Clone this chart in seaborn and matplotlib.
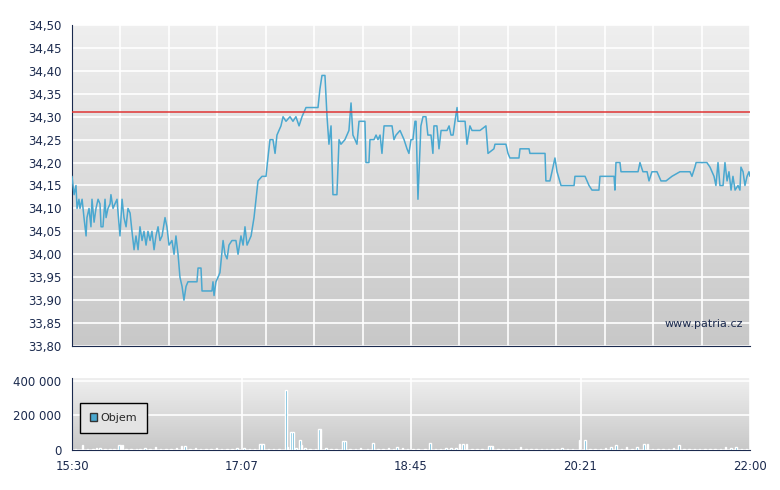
import numpy as np
import pandas as pd
import matplotlib
matplotlib.use("Agg")
import matplotlib.pyplot as plt
import seaborn as sns

# (minutes since 15:30, price)
price_points = [
(0,34.17),(1.2,34.13),(2.3,34.15),(2.9,34.10),(4.0,34.12),(4.6,34.10),(5.8,34.12),(6.9,34.08),(8.1,34.04),(8.6,34.08),
(9.8,34.10),(10.9,34.06),(11.5,34.12),(12.7,34.07),(13.8,34.10),(15.0,34.12),(16.1,34.11),(16.7,34.06),(17.8,34.06),(19.0,34.12),
(19.6,34.08),(20.7,34.10),(21.9,34.11),(22.4,34.13),(23.6,34.10),(24.7,34.11),(25.9,34.12),(26.5,34.09),(27.6,34.04),(28.8,34.12),
(29.9,34.08),(31.1,34.06),(32.2,34.10),(33.4,34.09),(34.5,34.05),(35.7,34.01),(36.8,34.04),(38.0,34.01),(39.1,34.06),(40.3,34.03),
(41.4,34.05),(42.6,34.02),(43.7,34.05),(44.9,34.03),(46.0,34.05),(47.2,34.01),(48.3,34.04),(49.5,34.06),(50.6,34.03),(51.8,34.04),
(53.5,34.08),(54.6,34.06),(55.8,34.02),(57.5,34.03),(58.7,34.00),(59.8,34.04),(61.0,34.00),(62.1,33.95),(63.3,33.93),(64.4,33.90),
(65.6,33.93),(66.7,33.94),(70.2,33.94),(71.9,33.94),(72.5,33.97),(74.2,33.97),(74.8,33.92),(80.5,33.92),(81.1,33.94),(81.7,33.91),
(82.8,33.94),(84.0,33.95),(85.1,33.96),(86.9,34.03),(88.0,34.00),(89.2,33.99),(90.3,34.02),(92.0,34.03),(94.3,34.03),(95.5,34.00),
(97.2,34.04),(98.4,34.02),(99.5,34.06),(100.7,34.02),(103.0,34.04),(104.7,34.08),(107.0,34.16),(109.3,34.17),(111.6,34.17),(112.7,34.21),
(113.9,34.25),(115.6,34.25),(116.8,34.22),(117.9,34.26),(120.2,34.28),(121.4,34.30),(123.1,34.29),(125.4,34.30),(127.1,34.29),(128.8,34.30),
(130.6,34.28),(132.3,34.30),(134.6,34.32),(141.5,34.32),(142.6,34.36),(143.8,34.39),(145.5,34.39),(146.7,34.30),(147.8,34.24),(149.0,34.28),
(150.1,34.13),(152.4,34.13),(153.6,34.25),(154.7,34.24),(157.0,34.25),(159.3,34.27),(160.5,34.33),(161.6,34.26),(162.8,34.25),(163.9,34.24),
(165.1,34.29),(168.5,34.29),(169.1,34.20),(170.8,34.20),(171.4,34.25),(173.7,34.25),(174.9,34.26),(176.0,34.25),(177.2,34.26),(178.3,34.22),
(179.5,34.28),(184.1,34.28),(185.2,34.25),(186.4,34.26),(188.7,34.27),(191.0,34.25),(192.7,34.23),(193.8,34.22),(195.0,34.25),(196.1,34.25),
(197.3,34.29),(197.9,34.29),(199.0,34.12),(200.7,34.28),(201.9,34.30),(203.6,34.30),(204.7,34.26),(206.5,34.26),(207.6,34.22),(208.2,34.28),
(209.9,34.28),(211.1,34.23),(212.3,34.27),(215.7,34.27),(216.9,34.28),(218.0,34.26),(219.2,34.26),(220.3,34.29),(221.5,34.32),(222.0,34.29),
(226.1,34.29),(227.2,34.24),(228.9,34.28),(230.1,34.27),(234.7,34.27),(238.1,34.28),(239.3,34.22),(242.7,34.23),(243.3,34.24),(249.6,34.24),
(250.8,34.22),(251.9,34.21),(257.1,34.21),(257.7,34.23),(262.9,34.23),(263.4,34.22),(272.1,34.22),(272.6,34.16),(274.9,34.16),(276.1,34.18),
(277.8,34.21),(279.0,34.18),(281.3,34.15),(288.8,34.15),(289.3,34.17),(295.1,34.17),(297.4,34.15),(299.1,34.14),(303.1,34.14),(303.7,34.17),
(311.8,34.17),(312.3,34.14),(312.9,34.20),(315.2,34.20),(315.8,34.18),(325.6,34.18),(326.7,34.20),(328.4,34.18),(330.8,34.18),(331.9,34.16),
(333.6,34.18),(336.5,34.18),(338.8,34.16),(341.7,34.16),(345.1,34.17),(349.7,34.18),(355.5,34.18),(356.6,34.17),(358.3,34.19),(359.0,34.20),
(365.2,34.20),(367.0,34.19),(369.3,34.17),(370.4,34.15),(371.6,34.20),(372.7,34.15),(374.5,34.15),(375.6,34.20),(376.8,34.16),(377.9,34.18),
(379.1,34.14),(380.2,34.17),(381.4,34.14),(383.1,34.15),(384.2,34.14),(384.8,34.19),(386.0,34.18),(387.1,34.15),(388.3,34.17),(389.4,34.18),
(390,34.17)]
price_t = [p[0] for p in price_points]
price_v = [p[1] for p in price_points]
ref_price = 34.31

# (minutes since 15:30, volume)
vol_points = [
(2,5000),(6,31000),(9,6000),(12,4000),(14,10000),(16,12000),(19,6000),(22,5000),(24,4000),(27,30000),
(28,30000),(29,30000),(31,5000),(34,8000),(37,4000),(39,6000),(42,12000),(45,5000),(48,15000),(51,6000),
(54,7000),(57,8000),(60,9000),(63,22000),(65,22000),(68,6000),(71,9000),(74,7000),(77,6000),(80,5000),
(83,10000),(86,8000),(89,6000),(92,7000),(95,12000),(99,10000),(102,8000),(105,6000),(108,37000),(109,37000),
(110,37000),(113,8000),(116,5000),(119,6000),(123,348000),(124,20000),(126,106000),(127,106000),(129,10000),(131,60000),
(132,29000),(134,9000),(137,6000),(140,7000),(142,123000),(143,123000),(146,10000),(149,7000),(152,6000),(156,50000),
(157,50000),(160,8000),(163,6000),(166,9000),(170,5000),(173,38000),(176,6000),(179,7000),(182,12000),(185,8000),
(187,15000),(190,9000),(193,6000),(196,7000),(199,5000),(203,8000),(206,38000),(209,7000),(212,6000),(215,9000),
(218,10000),(221,12000),(223,37000),(225,37000),(227,37000),(230,8000),(233,6000),(236,7000),(240,25000),(241,25000),
(242,25000),(245,6000),(248,5000),(251,7000),(255,8000),(258,15000),(261,6000),(264,5000),(267,7000),(270,6000),
(273,8000),(276,5000),(279,6000),(282,9000),(285,5000),(288,7000),(292,56000),(295,56000),(298,6000),(301,5000),
(304,7000),(307,12000),(310,15000),(313,27000),(316,6000),(319,20000),(322,8000),(325,15000),(329,37000),(331,37000),
(334,8000),(337,6000),(340,7000),(343,5000),(346,9000),(349,31000),(352,8000),(355,7000),(358,6000),(361,5000),
(364,6000),(367,7000),(370,8000),(373,6000),(376,15000),(379,9000),(382,15000),(385,8000),(388,6000)]
vol_t = [p[0] for p in vol_points]
vol_v = [p[1] for p in vol_points]

labels_time = ["15:30","17:07","18:45","20:21","22:00"]
price_ticks = [33.80,33.85,33.90,33.95,34.00,34.05,34.10,34.15,34.20,34.25,34.30,34.35,34.40,34.45,34.50]
vol_ticks = [0,200000,400000]

navy = "#1b2a4e"
line_c = "#4aa8d0"
sns.set_style("white")
fig = plt.figure(figsize=(7.8,4.9), dpi=100)
ax1 = fig.add_axes([72/780, 1-346/490, 678/780, 321/490])
ax2 = fig.add_axes([72/780, 1-450/490, 678/780, 72/490])

def grad(ax):
    g = np.linspace(0,1,100).reshape(-1,1)
    ax.imshow(g, extent=[0,1,0,1], transform=ax.transAxes, aspect="auto",
              cmap=matplotlib.colors.LinearSegmentedColormap.from_list("g",["#c8c8c8","#efefef"]),
              origin="lower", zorder=0)

for ax in (ax1, ax2):
    grad(ax)
    for s in ("top","right"):
        ax.spines[s].set_visible(False)
    ax.spines["left"].set_color(navy); ax.spines["bottom"].set_color(navy)
    ax.tick_params(colors=navy, labelsize=8.5, length=4, direction="out")

df = pd.DataFrame({"t":price_t,"p":price_v})
sns.lineplot(data=df, x="t", y="p", ax=ax1, color=line_c, lw=1.1, zorder=3)
ax1.axhline(ref_price, color="#e03535", lw=1.1, zorder=4)
ax1.set_xlim(0,390)
ax1.set_ylim(33.80,34.50)
ax1.set_yticks(price_ticks)
ax1.set_yticklabels([f"{v:.2f}".replace(".",",") for v in price_ticks])
ax1.set_xticks(np.linspace(0,390,15)); ax1.set_xticklabels([])
ax1.grid(True, color="white", lw=1.2)
for l in ax1.get_xgridlines()+ax1.get_ygridlines(): l.set_zorder(1)
ax1.set_xlabel(""); ax1.set_ylabel("")
ax1.text(0.99,0.06,"www.patria.cz",transform=ax1.transAxes,ha="right",fontsize=8,color=navy)

ax2.bar(vol_t, vol_v, width=0.9, color=line_c, zorder=3, label="Objem")
ax2.set_xlim(0,390)
ax2.set_ylim(0,415000)
ax2.set_yticks(vol_ticks)
ax2.set_yticklabels(["0","200 000","400 000"])
ax2.set_xticks(np.linspace(0,390,5)); ax2.set_xticklabels(labels_time)
ax2.grid(True, color="white", lw=1.2)
for l in ax2.get_xgridlines()+ax2.get_ygridlines(): l.set_zorder(1)
leg = ax2.legend(loc="center left", bbox_to_anchor=(0.003,0.45), fontsize=8, frameon=True,
                 fancybox=False, edgecolor="black", facecolor="#e4e4e4", framealpha=1,
                 handlelength=0.7, handleheight=0.7, borderpad=0.9, handletextpad=0.3)
leg.get_patches()[0].set_edgecolor("#333333")
fig.savefig("out.png", dpi=100)
